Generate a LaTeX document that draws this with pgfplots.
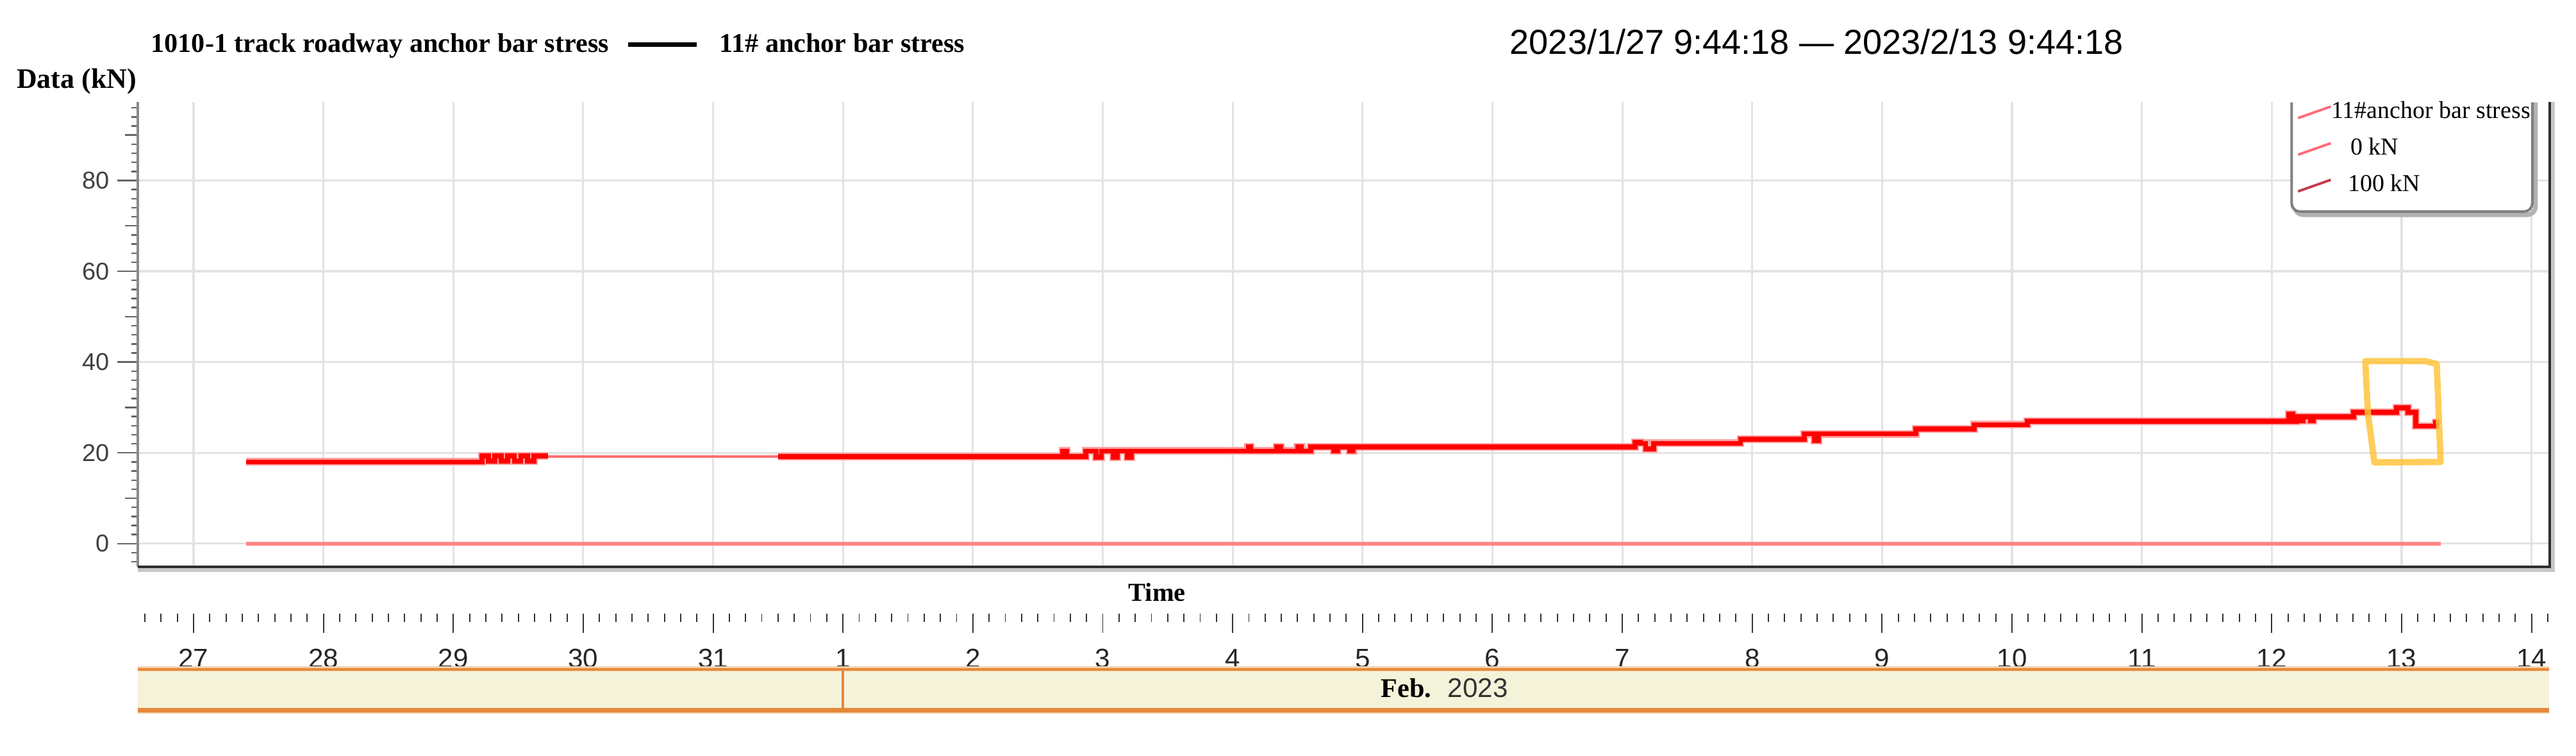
\documentclass[border=0pt]{standalone}
\usepackage{fontspec}
\setmainfont{Liberation Serif}
\newfontfamily\arialfont{Liberation Sans}
\usepackage{pgfplots}
\usepackage{pgfplotstable}
\pgfplotsset{compat=1.18}

\definecolor{lineRed}{HTML}{FF0000}
\definecolor{haloRed}{HTML}{FFA0A0}
\definecolor{gapRed}{HTML}{FF6F6F}
\definecolor{zeroRed}{HTML}{FF8686}
\definecolor{legRed}{HTML}{FF6A7A}
\definecolor{legDark}{HTML}{C33A4A}
\definecolor{boxGold}{HTML}{FFC43D}
\definecolor{gridGray}{HTML}{E3E3E3}
\definecolor{axisGray}{HTML}{8A8A8A}
\definecolor{frameDark}{HTML}{2E2E2E}
\definecolor{bandFill}{HTML}{F4F3DA}
\definecolor{bandLine}{HTML}{E6883A}
\definecolor{bandGlow}{HTML}{F6CFA8}

% x = days after 2023/1/27 00:00, y = kN
\pgfplotstableread{
x y
0.405 18.0
2.22 19.3
2.27 18.2
2.32 19.3
2.37 18.2
2.42 19.3
2.47 18.2
2.52 19.3
2.57 18.2
2.62 19.3
2.73 19.3
2.74 nan
4.50 19.2
6.69 20.4
6.72 19.2
6.87 20.4
6.95 19.0
6.99 20.4
7.08 19.0
7.11 20.4
7.19 19.0
7.22 20.4
8.12 21.3
8.14 20.4
8.34 21.3
8.37 20.4
8.50 21.3
8.53 20.4
8.60 21.3
8.78 20.5
8.81 21.3
8.90 20.5
8.93 21.3
11.10 22.3
11.14 22.1
11.18 20.9
11.24 22.1
11.91 23.0
12.40 24.2
12.48 22.7
12.51 24.2
13.26 25.3
13.71 26.2
14.12 27.0
16.13 28.5
16.16 27.0
16.19 27.9
16.22 27.1
16.24 27.9
16.30 27.1
16.32 27.9
16.63 28.9
16.96 29.9
17.05 28.9
17.11 25.9
17.26 26.7
17.29 26.7
}\stressdata

\begin{document}
\begin{tikzpicture}
\useasboundingbox (0,0) rectangle (401.9mm,117.9mm);

% header
\node[anchor=base west, inner sep=0, font=\bfseries\fontsize{12}{14}\selectfont] at (23.5mm,109.7mm) {1010-1 track roadway anchor bar stress};
\draw[black, line width=2pt] (98mm,110.9mm) -- (108.7mm,110.9mm);
\node[anchor=base west, inner sep=0, font=\bfseries\fontsize{12}{14}\selectfont] at (112.2mm,109.7mm) {11\# anchor bar stress};
\node[anchor=base west, inner sep=0, font=\arialfont\fontsize{15.4}{18}\selectfont] at (235.5mm,109.4mm) {2023/1/27 9:44:18 — 2023/2/13 9:44:18};
\node[anchor=base west, inner sep=0, font=\bfseries\fontsize{12.5}{14}\selectfont] at (2.55mm,104.1mm) {Data (kN)};

\begin{axis}[
  at={(21.5mm,29.5mm)}, anchor=south west,
  scale only axis, width=376.3mm, height=72.5mm,
  xmin=-0.429, xmax=18.14, ymin=-5.1, ymax=97.3,
  axis line style={draw=none},
  xtick={0,...,18}, xticklabels={}, xmajorticks=false,
  ytick={0,20,...,80},
  minor ytick={-4,-2,...,96},
  extra y ticks={10,30,50,70,90},
  extra y tick labels={},
  extra y tick style={grid=none, major tick length=2mm},
  ytick pos=left,
  tick align=outside,
  major tick length=3.2mm, minor tick length=1mm,
  tick style={black!60, line width=0.7pt},
  xmajorgrids, ymajorgrids,
  grid style={gridGray, line width=0.9pt},
  yticklabel style={font=\arialfont\fontsize{10.8}{12}\selectfont, text=black!75},
  /pgf/number format/assume math mode=true,
  clip mode=individual,
  unbounded coords=jump,
  legend style={at={(rel axis cs:0.8945,1.014)}, anchor=north west,
                draw=none, fill=none, font=\fontsize{10.8}{12}\selectfont,
                row sep=1.15mm, inner sep=0.5pt},
  legend cell align=left,
]
\addplot[haloRed, line width=3.4pt, const plot, forget plot] table[x=x, y=y] {\stressdata};
\addplot[lineRed, line width=2.2pt, const plot,
  legend image code/.code={\draw[legRed, line width=1.1pt] (0mm,-1mm) -- (5.1mm,0.8mm);}]
  table[x=x, y=y] {\stressdata};
\addlegendentry{\hspace{-0.8mm}11\#anchor bar stress}
\addplot[zeroRed, line width=1.6pt,
  legend image code/.code={\draw[legRed, line width=1.1pt] (0mm,-1mm) -- (5.1mm,0.8mm);}]
  coordinates {(0.405,0) (17.30,0)};
\addlegendentry{\hspace{2.2mm}0 kN}
\addplot[legDark, line width=1.6pt,
  legend image code/.code={\draw[legDark, line width=1.1pt] (0mm,-1mm) -- (5.1mm,0.8mm);}]
  coordinates {(0.405,100) (17.30,100)};
\addlegendentry{\hspace{1.8mm}100 kN}
% gap in the record
\addplot[gapRed, line width=1.1pt, forget plot] coordinates {(2.73,19.25) (4.50,19.25)};
% highlight box
\addplot[boxGold, line width=2.8pt, line join=round, line cap=round, opacity=0.85, forget plot]
  coordinates {(16.72,40.2) (17.18,40.2) (17.27,39.6) (17.30,18.0) (16.79,17.9) (16.74,28.8) (16.72,40.2)};

% frame
\draw[axisGray, line width=1.4pt] (rel axis cs:0,0) -- (rel axis cs:0,1);
\draw[black!22, line width=2pt] ([yshift=-1.3pt]rel axis cs:0,0) -- ([xshift=1.3pt,yshift=-1.3pt]rel axis cs:1,0) -- ([xshift=1.3pt]rel axis cs:1,1);
\draw[frameDark, line width=1.2pt] (rel axis cs:0,0) -- (rel axis cs:1,0) -- (rel axis cs:1,1);
% legend box
\draw[black!30, line width=2pt, rounded corners=1.3mm] ([xshift=0.5mm]rel axis cs:0.893,0.999) |- ([xshift=0.5mm,yshift=-0.5mm]rel axis cs:0.9928,0.764) -- ([xshift=0.5mm]rel axis cs:0.9928,0.999);
\draw[fill=white, draw=black!50, line width=1.2pt, rounded corners=1.3mm] (rel axis cs:0.893,0.999) |- (rel axis cs:0.9928,0.764) -- (rel axis cs:0.9928,0.999);
\end{axis}

\node[anchor=base west, inner sep=0, font=\bfseries\fontsize{11.5}{14}\selectfont] at (176mm,24.1mm) {Time};

% date ruler
\begin{axis}[
  at={(21.5mm,22.2mm)}, anchor=south west,
  scale only axis, width=376.3mm, height=1mm,
  xmin=-0.429, xmax=18.14, ymin=0, ymax=1,
  axis x line=bottom, axis y line=none,
  x axis line style={draw=none},
  xtick={0,...,18},
  xticklabels={27,28,29,30,31,1,2,3,4,5,6,7,8,9,10,11,12,13,14},
  minor xtick={-0.375,-0.25,...,18.125},
  tick align=outside,
  major tick length=3mm, minor tick length=1.3mm,
  tick style={black!80, line width=0.55pt},
  xticklabel style={font=\arialfont\fontsize{12}{14}\selectfont, text=black!85, yshift=-1.3mm},
]
\end{axis}

% month band
\fill[bandGlow] (21.5mm,6.6mm) rectangle (397.7mm,14.0mm);
\fill[bandFill] (21.5mm,7.5mm) rectangle (397.7mm,13.2mm);
\draw[bandLine, line width=1.2pt] (21.5mm,13.5mm) -- (397.7mm,13.5mm);
\draw[bandLine, line width=2pt] (21.5mm,7.15mm) -- (397.7mm,7.15mm);
\draw[bandLine, line width=1.3pt] (131.5mm,7.15mm) -- (131.5mm,13.5mm);
\node[anchor=base west, inner sep=0, font=\bfseries\fontsize{12}{14}\selectfont] at (215.4mm,9.1mm) {Feb.};
\node[anchor=base west, inner sep=0, font=\arialfont\fontsize{12}{14}\selectfont, text=black!80] at (225.8mm,9.1mm) {2023};
\end{tikzpicture}
\end{document}
